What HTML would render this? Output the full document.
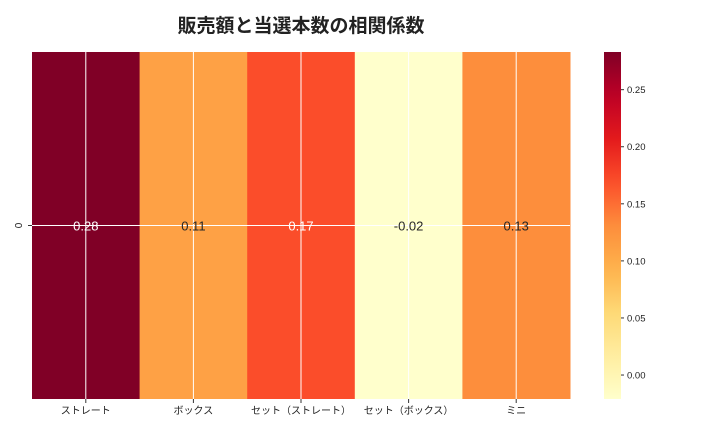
<!DOCTYPE html>
<html><head><meta charset="utf-8"><style>
body{margin:0;background:#fff;font-family:"Liberation Sans","Noto Sans CJK JP",sans-serif;}
</style></head><body>
<svg id="chart" width="720" height="432" xmlns="http://www.w3.org/2000/svg" font-family="Liberation Sans, Noto Sans CJK JP, sans-serif">
<defs><linearGradient id="cbg" x1="0" y1="1" x2="0" y2="0"></linearGradient></defs>
<text x="301" y="32" text-anchor="middle" font-size="19" font-weight="bold" fill="#222">販売額と当選本数の相関係数</text>
<g id="cells"></g><g id="grid"></g><g id="labels"></g><g id="cbar"></g>
</svg>
<script>
const categories=["ストレート","ボックス","セット（ストレート）","セット（ボックス）","ミニ"];
const values=[0.283,0.11,0.17,-0.021,0.13];
const labels=["0.28","0.11","0.17","-0.02","0.13"];
const cbTicks=[0,0.05,0.10,0.15,0.20,0.25];
const cbTickLabels=["0.00","0.05","0.10","0.15","0.20","0.25"];
const vmin=-0.021,vmax=0.283;
const stops=["#ffffcc","#ffeda0","#fed976","#feb24c","#fd8d3c","#fc4e2a","#e31a1c","#bd0026","#800026"];
function hex(h){return [1,3,5].map(i=>parseInt(h.substr(i,2),16));}
function cmap(v){let t=Math.max(0,Math.min(1,(v-vmin)/(vmax-vmin)))*(stops.length-1);let i=Math.min(Math.floor(t),stops.length-2),f=t-i;let a=hex(stops[i]),b=hex(stops[i+1]);let c=a.map((x,k)=>Math.round(x+(b[k]-x)*f));return {s:`rgb(${c.join(',')})`,l:(0.299*c[0]+0.587*c[1]+0.114*c[2])};}
const X0=32,X1=570,Y0=52,Y1=399;const cw=(X1-X0)/categories.length;
const ns="http://www.w3.org/2000/svg";
function mk(t,a,p){const e=document.createElementNS(ns,t);for(const k in a)e.setAttribute(k,a[k]);p.appendChild(e);return e;}
const cells=document.getElementById('cells'),grid=document.getElementById('grid'),lab=document.getElementById('labels');
const yc=(Y0+Y1)/2;
values.forEach((v,i)=>{const c=cmap(v);
 const r=mk('rect',{x:X0+i*cw,y:Y0,width:cw+0.5,height:Y1-Y0,fill:c.s},cells);
 
 
 const xc=X0+(i+0.5)*cw;
 mk('line',{x1:xc,y1:Y0,x2:xc,y2:Y1,stroke:'#fff','stroke-width':1},grid);
 const tk=mk('line',{x1:xc,y1:Y1,x2:xc,y2:Y1+4,stroke:'#333'},lab);
 const t=mk('text',{x:xc,y:yc+5,'text-anchor':'middle','font-size':13,fill:c.l<140?'#fff':'#262626'},lab);t.textContent=labels[i];
 
 
 const xl=mk('text',{x:xc,y:Y1+15,'text-anchor':'middle','font-size':10,fill:'#222'},lab);xl.textContent=categories[i];
 
 
});
mk('line',{x1:X0,y1:yc,x2:X1,y2:yc,stroke:'#fff','stroke-width':1},grid);
mk('line',{x1:X0-4,y1:yc,x2:X0,y2:yc,stroke:'#333'},lab);
const y0l=mk('text',{x:22,y:yc,'text-anchor':'middle','font-size':10,fill:'#222',transform:`rotate(-90 22 ${yc})`},lab);y0l.textContent="0";


// colorbar
const g=document.getElementById('cbg');
for(let k=0;k<=20;k++){const v=vmin+(vmax-vmin)*k/20;mk('stop',{offset:k/20,'stop-color':cmap(v).s},g);}
const cb=document.getElementById('cbar');
const CX=604,CW=17;
const cr=mk('rect',{x:CX,y:Y0,width:CW,height:Y1-Y0,fill:'url(#cbg)'},cb);


const cy=v=>Y1-(v-vmin)/(vmax-vmin)*(Y1-Y0);
cbTicks.forEach((v,i)=>{const y=cy(v);mk('line',{x1:CX+CW,y1:y,x2:CX+CW+3,y2:y,stroke:'#333'},cb);
 const t=mk('text',{x:CX+CW+6,y:y+3.5,'font-size':9.5,fill:'#222'},cb);t.textContent=cbTickLabels[i];
 
 });
</script>
</body></html>
